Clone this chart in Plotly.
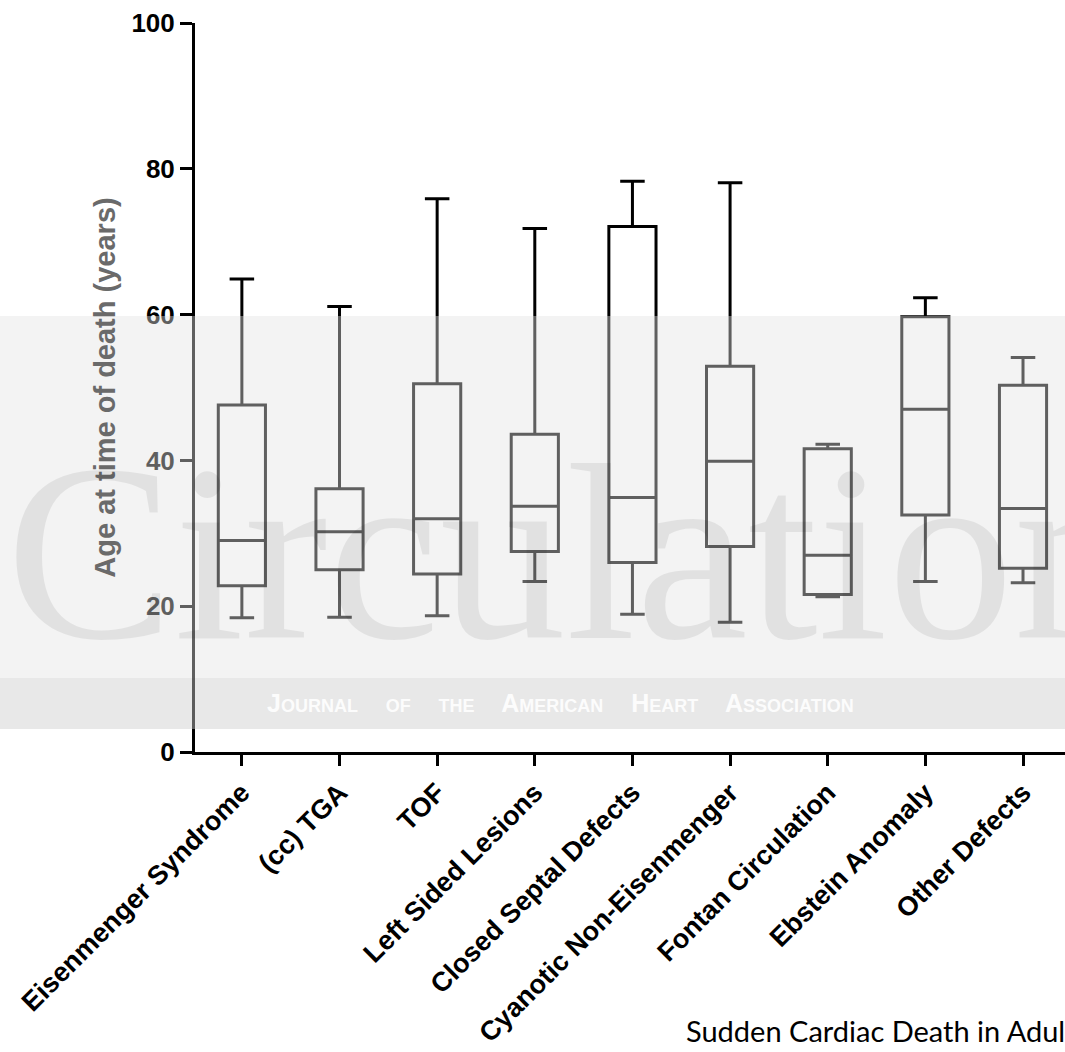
import plotly.graph_objects as go

# ---- data ----
categories = ["Eisenmenger Syndrome", "(cc) TGA", "TOF", "Left Sided Lesions",
              "Closed Septal Defects", "Cyanotic Non-Eisenmenger",
              "Fontan Circulation", "Ebstein Anomaly", "Other Defects"]
minimum = [18.4, 18.5, 18.7, 23.4, 18.9, 17.8, 21.3, 23.4, 23.2]
q1 = [22.8, 25.0, 24.4, 27.5, 26.0, 28.2, 21.6, 32.5, 25.2]
median = [29.0, 30.2, 32.0, 33.7, 34.9, 39.9, 27.0, 47.0, 33.4]
q3 = [47.6, 36.1, 50.5, 43.6, 72.1, 52.9, 41.6, 59.7, 50.3]
maximum = [64.9, 61.1, 75.9, 71.8, 78.3, 78.1, 42.2, 62.3, 54.1]
y_ticks = [0, 20, 40, 60, 80, 100]

W, H = 1065, 1052
L, R, T, B = 195, 0, 23, 300
PW, PH = W - L - R, H - T - B


def px(xs):
    """reference pixel x -> paper x"""
    return (xs - L) / PW


def py(ys):
    """reference pixel y -> paper y"""
    return (T + PH - ys) / PH


FONT = "Liberation Sans, Arial, Helvetica, sans-serif"

fig = go.Figure()
fig.add_trace(go.Box(
    x=categories, q1=q1, median=median, q3=q3,
    lowerfence=minimum, upperfence=maximum,
    line=dict(color="black", width=3),
    fillcolor="rgba(0,0,0,0)",
    whiskerwidth=0.52, boxpoints=False,
    showlegend=False, hoverinfo="skip",
))

fig.update_layout(
    width=W, height=H,
    margin=dict(l=L, r=R, t=T, b=B, autoexpand=False),
    paper_bgcolor="white", plot_bgcolor="white",
    boxgap=0.31,
    showlegend=False,
    xaxis=dict(
        type="category", range=[-0.48, 8.43],
        showline=True, linecolor="black", linewidth=3,
        ticks="outside", ticklen=11, tickwidth=3, tickcolor="black",
        tickangle=-45, showgrid=False, zeroline=False, automargin=False,
        tickfont=dict(family=FONT, size=27, color="black", weight="bold"),
    ),
    yaxis=dict(
        range=[0, 100], tickmode="array", tickvals=y_ticks,
        showline=True, linecolor="black", linewidth=3,
        ticks="outside", ticklen=12, tickwidth=3, tickcolor="black",
        showgrid=False, zeroline=False, automargin=False,
        tickfont=dict(family=FONT, size=26, color="black", weight="bold"),
        title=dict(text="Age at time of death (years)", standoff=8,
                   font=dict(family=FONT, size=29, color="#6a6a6a", weight="bold")),
    ),
)

# ---- journal watermark (washes the middle of the picture) ----
fig.add_shape(type="rect", xref="paper", yref="paper",
              x0=px(-2), x1=px(W + 2), y0=py(678), y1=py(316),
              fillcolor="rgba(227,227,227,0.42)", line=dict(width=0), layer="above")
fig.add_shape(type="rect", xref="paper", yref="paper",
              x0=px(-2), x1=px(W + 2), y0=py(729), y1=py(678),
              fillcolor="rgba(205,205,205,0.45)", line=dict(width=0), layer="above")
fig.add_annotation(text="Circulation", xref="paper", yref="paper",
                   x=px(4), y=py(553), xanchor="left", yanchor="middle",
                   showarrow=False,
                   font=dict(family="Liberation Serif, Times New Roman, serif",
                             size=252, color="rgba(0,0,0,0.07)"))
fig.add_annotation(text="Journal    of    the    American    Heart    Association",
                   xref="paper", yref="paper",
                   x=px(560), y=py(703), xanchor="center", yanchor="middle",
                   showarrow=False,
                   font=dict(family=FONT, size=25, color="rgba(255,255,255,0.9)",
                             weight="bold", variant="small-caps"))

# ---- caption at the bottom (cut by the right edge in the reference) ----
fig.add_annotation(text="Sudden Cardiac Death in Adults with Congenital Heart Disease",
                   xref="paper", yref="paper",
                   x=px(684), y=py(1030), xanchor="left", yanchor="middle",
                   showarrow=False,
                   font=dict(family="Lato, Open Sans, sans-serif", size=29, color="black"))

# remove the browser's default 8px page margin so the figure fills the window
fig.write_html("out.html", config={"displayModeBar": False},
               post_script="document.body.style.margin='0';")
